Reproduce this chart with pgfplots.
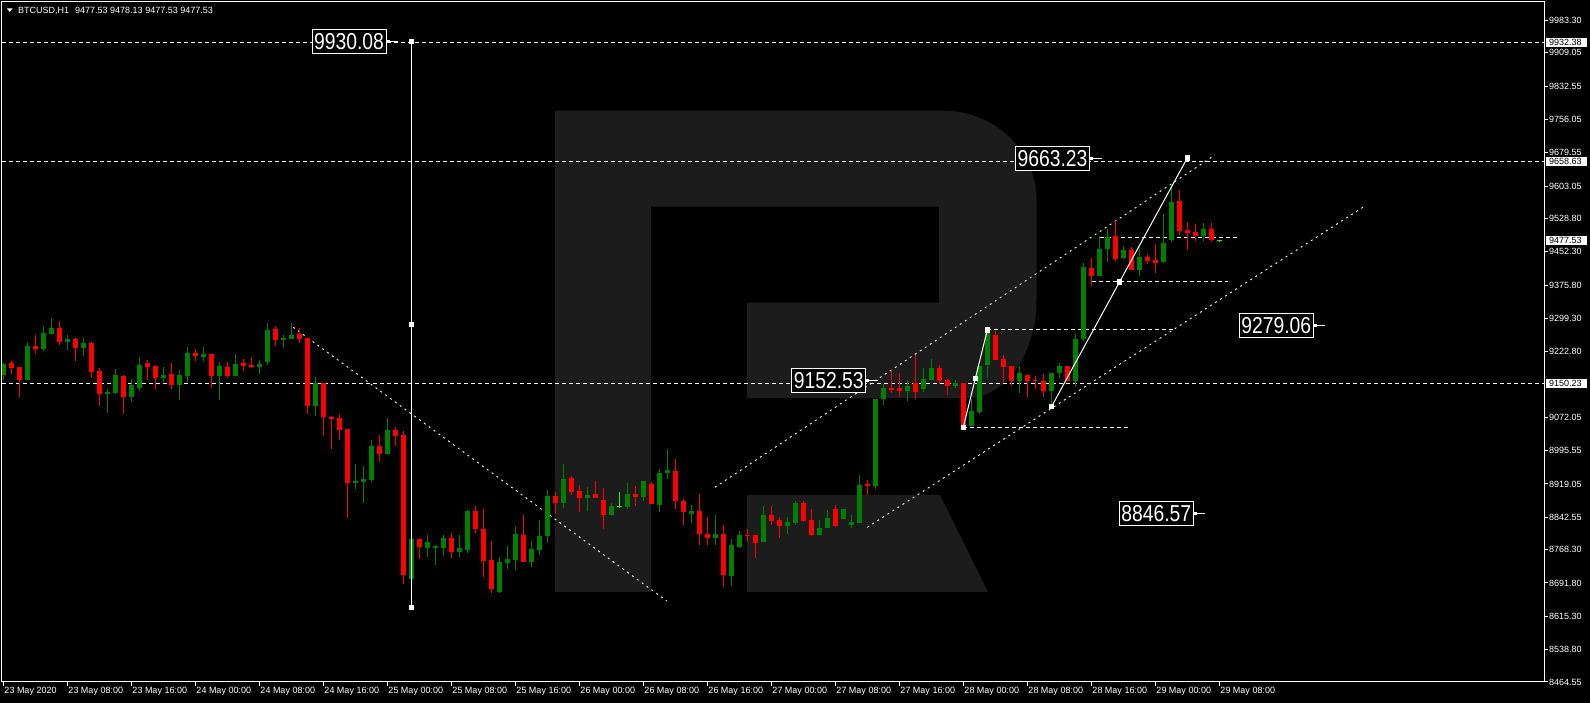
\documentclass[border=0pt]{standalone}
\usepackage{fontspec}
\setmainfont{Liberation Sans}
\usepackage{graphicx}
\usepackage{pgfplots}
\usepackage{pgfplotstable}
\pgfplotsset{compat=1.18}
\definecolor{cgreen}{RGB}{0,128,0}
\definecolor{cred}{RGB}{255,0,0}
\definecolor{clime}{RGB}{0,255,0}
\definecolor{rlogo}{RGB}{28,28,28}
\newcommand\sm{\fontsize{9}{10}\selectfont}
\newcommand\biglab[1]{\scalebox{0.84}[1]{\fontsize{23}{23}\selectfont #1}}

\pgfplotstableread{
k o h l c
0 9169.3 9196.1 9157.9 9194.6
3 9157.9 9245.1 9157.9 9235.9
5 9229.0 9281.8 9225.2 9265.7
6 9263.4 9300.2 9263.4 9277.2
8 9245.8 9261.2 9227.5 9252.0
10 9232.1 9255.0 9213.7 9242.8
13 9126.5 9136.4 9082.9 9130.3
14 9128.8 9183.1 9126.5 9169.3
16 9119.6 9160.1 9108.1 9146.4
17 9140.3 9211.4 9133.4 9192.3
20 9163.2 9187.7 9154.0 9169.3
22 9147.1 9180.8 9112.7 9169.3
23 9167.8 9233.6 9154.0 9219.8
25 9211.4 9233.6 9202.2 9217.5
27 9167.8 9199.2 9112.7 9190.0
29 9167.8 9217.5 9167.8 9194.6
32 9187.7 9203.8 9172.4 9194.6
33 9199.9 9288.7 9193.1 9272.6
35 9250.4 9261.2 9232.1 9254.3
36 9252.7 9288.7 9252.7 9261.2
39 9098.9 9164.7 9076.0 9151.0
44 8922.2 8965.8 8908.4 8926.0
45 8924.5 8961.2 8876.3 8930.6
46 8928.3 9020.9 8924.5 9007.1
48 8988.7 9071.4 8988.7 9043.8
51 8701.8 8795.0 8697.0 8792.8
53 8772.2 8802.0 8752.3 8785.9
54 8774.5 8779.0 8733.9 8776.7
55 8772.2 8802.0 8754.6 8795.1
57 8763.7 8802.0 8752.3 8772.2
58 8768.3 8859.4 8761.5 8857.1
62 8671.9 8751.5 8669.6 8740.0
63 8737.7 8776.7 8724.7 8746.9
64 8745.4 8822.7 8722.4 8804.3
66 8740.8 8788.2 8729.3 8769.9
67 8768.3 8836.4 8756.9 8799.7
68 8800.5 8905.3 8784.4 8891.5
70 8876.2 8965.0 8864.0 8930.6
73 8887.7 8912.2 8857.9 8893.8
76 8847.9 8875.5 8845.6 8868.6
78 8866.3 8921.4 8861.7 8896.1
80 8889.2 8926.0 8880.1 8926.0
82 8870.9 8953.5 8854.8 8944.3
83 8944.3 8999.4 8930.6 8951.2
86 8850.2 8870.9 8829.6 8857.1
89 8795.1 8847.9 8779.0 8804.3
91 8707.9 8792.8 8684.9 8779.0
92 8774.5 8811.2 8772.2 8802.0
95 8785.9 8868.6 8785.9 8847.9
98 8822.7 8843.3 8804.3 8831.8
99 8829.6 8880.1 8825.0 8875.5
102 8802.8 8836.5 8802.8 8818.1
103 8818.1 8859.4 8818.1 8841.1
105 8838.8 8861.7 8838.8 8861.7
106 8825.0 8847.9 8817.3 8832.6
107 8830.3 8939.8 8830.3 8916.8
109 8915.3 9114.2 8908.4 9114.2
110 9114.2 9148.7 9100.5 9139.5
113 9132.6 9157.9 9109.6 9144.1
115 9137.2 9185.4 9130.3 9160.1
116 9157.9 9206.1 9157.9 9185.4
119 9144.1 9157.9 9139.5 9151.0
121 9052.2 9114.2 9052.2 9086.7
122 9084.4 9190.0 9079.8 9190.0
123 9192.3 9272.6 9162.4 9272.6
127 9155.6 9190.0 9128.0 9173.9
131 9132.6 9173.9 9098.0 9173.9
132 9173.9 9196.9 9162.4 9190.0
134 9155.6 9263.4 9141.8 9252.0
135 9252.0 9425.7 9248.0 9418.0
137 9397.4 9488.4 9397.4 9458.6
138 9458.6 9504.5 9428.7 9486.1
140 9437.9 9465.5 9435.6 9456.3
142 9410.4 9463.2 9396.6 9440.2
145 9428.7 9538.9 9426.4 9472.4
146 9479.2 9607.8 9474.6 9566.5
150 9488.4 9518.3 9476.9 9504.5
}\bull

\pgfplotstableread{
k o h l c
1 9197.6 9201.5 9172.4 9186.2
2 9187.7 9187.7 9119.6 9157.9
4 9235.9 9261.2 9218.3 9229.0
7 9277.2 9293.3 9239.0 9245.8
9 9252.0 9255.0 9202.2 9232.1
11 9242.8 9245.8 9163.2 9177.0
12 9178.5 9186.2 9098.9 9126.5
15 9167.0 9169.3 9080.6 9119.6
18 9196.9 9203.8 9157.9 9187.7
19 9190.0 9192.3 9138.0 9163.2
21 9171.6 9196.9 9138.0 9147.1
24 9219.8 9229.0 9202.2 9213.7
26 9217.5 9217.5 9140.3 9167.8
28 9187.7 9199.2 9163.2 9167.8
30 9196.9 9206.1 9179.3 9190.8
31 9192.3 9210.7 9186.2 9187.7
34 9274.9 9281.8 9236.7 9250.4
37 9264.2 9277.2 9243.6 9252.7
38 9254.3 9254.3 9080.6 9098.9
40 9151.0 9151.0 9030.1 9073.7
41 9073.7 9076.0 9000.2 9069.1
42 9071.4 9079.8 9020.9 9043.8
43 9045.4 9045.4 8841.8 8922.2
47 9007.1 9032.4 8970.4 8988.7
49 9043.8 9050.7 9007.1 9030.1
50 9032.4 9041.5 8690.3 8711.0
52 8792.8 8792.8 8747.7 8774.5
56 8795.1 8806.6 8750.0 8763.7
59 8857.1 8868.6 8806.6 8815.8
60 8815.8 8861.7 8706.4 8743.1
61 8744.6 8788.2 8669.6 8678.8
65 8802.0 8847.9 8740.8 8740.8
69 8891.5 8900.7 8850.2 8875.5
71 8932.9 8937.4 8894.6 8900.7
72 8903.0 8916.8 8855.6 8887.7
74 8896.1 8926.0 8887.7 8887.7
75 8882.4 8909.9 8816.5 8847.9
79 8896.1 8914.5 8868.6 8889.2
81 8919.1 8923.7 8873.2 8873.2
84 8948.9 8976.5 8861.7 8880.1
85 8880.1 8884.6 8825.0 8854.8
87 8857.1 8896.1 8779.0 8804.3
88 8804.3 8843.3 8779.0 8795.1
90 8804.3 8825.0 8683.4 8710.2
93 8802.0 8815.8 8785.9 8800.5
94 8802.0 8802.0 8749.2 8783.6
96 8847.9 8868.6 8825.0 8834.1
97 8836.4 8843.3 8795.1 8822.7
100 8876.3 8880.1 8832.6 8834.9
101 8836.5 8861.7 8800.5 8802.0
104 8861.7 8870.9 8821.2 8823.5
108 8918.3 8928.3 8893.9 8916.8
111 9138.7 9180.8 9128.8 9137.2
112 9139.5 9173.9 9118.8 9132.6
114 9151.0 9215.2 9114.2 9130.3
117 9185.4 9192.3 9148.7 9155.6
118 9157.9 9160.1 9123.4 9144.1
120 9151.0 9151.0 9049.2 9049.2
124 9261.2 9270.3 9203.8 9203.8
125 9206.1 9215.2 9154.0 9188.5
126 9190.0 9190.0 9144.1 9155.6
128 9169.3 9169.3 9118.8 9155.6
129 9157.9 9167.0 9137.2 9156.3
130 9155.6 9171.6 9118.8 9132.6
133 9190.0 9190.0 9155.6 9155.6
136 9415.7 9437.9 9374.4 9397.4
139 9488.4 9522.9 9431.0 9435.6
141 9456.3 9463.2 9410.4 9410.4
143 9440.2 9447.1 9424.1 9431.0
144 9433.3 9470.1 9403.5 9426.4
147 9568.8 9594.0 9490.7 9499.9
148 9502.2 9520.6 9456.3 9495.3
149 9497.6 9516.0 9476.9 9488.4
151 9504.5 9518.3 9474.6 9479.2
}\bear

\pgfplotstableread{
k p h l
77 8867.8 8900.7 8864.0
152 9477.53 9478.13 9477.53
}\doji

\begin{document}
\begin{tikzpicture}[x=1pt,y=1pt]
\fill[black] (0,0) rectangle (1590,703);
% watermark
\fill[rlogo] (555,592.3) -- (943,592.3) .. controls (994.6,592.3) and (1036.5,552.3) .. (1036.5,503)
  -- (1036.5,403) .. controls (1036.5,348.9) and (1005.2,305) .. (966.7,305)
  -- (747,305) -- (747,400.3) -- (939,400.3) -- (939,496.3) -- (651,496.3) -- (651,111) -- (555,111) -- cycle;
\fill[rlogo] (747,208) -- (940,208) -- (988,111) -- (747,111) -- cycle;

\begin{axis}[at={(2pt,21pt)}, anchor=south west, scale only axis,
  width=1542pt, height=680pt,
  xmin=-0.1625, xmax=192.59, ymin=8464.5, ymax=10025.6,
  scaled ticks=false,
  axis line style={white, line width=1pt},
  xtick pos=left, ytick pos=right, yticklabel pos=right,
  tick align=outside, major tick length=4pt,
  tick style={white, line width=1pt},
  xtick={0,8,...,152},
  xticklabels={23 May 2020, 23 May 08:00, 23 May 16:00, 24 May 00:00, 24 May 08:00, 24 May 16:00, 25 May 00:00, 25 May 08:00, 25 May 16:00, 26 May 00:00, 26 May 08:00, 26 May 16:00, 27 May 00:00, 27 May 08:00, 27 May 16:00, 28 May 00:00, 28 May 08:00, 28 May 16:00, 29 May 00:00, 29 May 08:00},
  ytick={9983.30,9909.05,9832.55,9756.05,9679.55,9603.05,9528.80,9452.30,9375.80,9299.30,9222.80,9072.05,8995.55,8919.05,8842.55,8768.30,8691.80,8615.30,8538.80,8464.55},
  yticklabels={9983.30,9909.05,9832.55,9756.05,9679.55,9603.05,9528.80,9452.30,9375.80,9299.30,9222.80,9072.05,8995.55,8919.05,8842.55,8768.30,8691.80,8615.30,8538.80,8464.55},
  xticklabel style={text=white, font=\sm, anchor=north west, inner sep=1pt},
  yticklabel style={text=white, font=\sm, anchor=west, inner sep=1pt},
]
% full-width dashed price lines
\addplot[white, line width=1pt, dash pattern=on 4pt off 3pt] coordinates {(-1,9932.38) (195,9932.38)};
\addplot[white, line width=1pt, dash pattern=on 4pt off 3pt] coordinates {(-1,9658.63) (195,9658.63)};
\addplot[white, line width=1pt, dash pattern=on 4pt off 3pt] coordinates {(-1,9150.23) (195,9150.23)};
% short horizontal levels
\addplot[white, line width=1pt, dash pattern=on 4pt off 3pt] coordinates {(123,9272.6) (146.2,9272.6)};
\addplot[white, line width=1pt, dash pattern=on 4pt off 3pt] coordinates {(120,9049.2) (140.6,9049.2)};
\addplot[white, line width=1pt, dash pattern=on 4pt off 3pt] coordinates {(136.1,9383.5) (153.1,9383.5)};
\addplot[white, line width=1pt, dash pattern=on 4pt off 3pt] coordinates {(137.1,9485) (154.2,9485)};
% dotted channel lines
\addplot[white, line width=0.9pt, dash pattern=on 2pt off 4pt] coordinates {(36.25,9278.8) (82.93,8650.5)};
\addplot[white, line width=0.9pt, dash pattern=on 2pt off 4pt] coordinates {(88.96,8911.5) (151.46,9674.4)};
\addplot[white, line width=0.9pt, dash pattern=on 2pt off 4pt] coordinates {(108.0,8819.7) (170.2,9557.3)};
% candles: wicks and bodies
\addplot[draw=none, error bars/.cd, y dir=both, y explicit, error mark=none,
  error bar style={draw=cgreen, line width=1pt, solid}]
  table[x=k, y expr={(\thisrow{h}+\thisrow{l})/2}, y error expr={(\thisrow{h}-\thisrow{l})/2}] {\bull};
\addplot[draw=none, error bars/.cd, y dir=both, y explicit, error mark=none,
  error bar style={draw=cgreen, line width=5pt, solid}]
  table[x=k, y expr={(\thisrow{o}+\thisrow{c})/2}, y error expr={max(abs(\thisrow{o}-\thisrow{c})/2,1.15)}] {\bull};
\addplot[draw=none, error bars/.cd, y dir=both, y explicit, error mark=none,
  error bar style={draw=cred, line width=1pt, solid}]
  table[x=k, y expr={(\thisrow{h}+\thisrow{l})/2}, y error expr={(\thisrow{h}-\thisrow{l})/2}] {\bear};
\addplot[draw=none, error bars/.cd, y dir=both, y explicit, error mark=none,
  error bar style={draw=cred, line width=5pt, solid}]
  table[x=k, y expr={(\thisrow{o}+\thisrow{c})/2}, y error expr={max(abs(\thisrow{o}-\thisrow{c})/2,1.15)}] {\bear};
\addplot[draw=none, error bars/.cd, y dir=both, y explicit, error mark=none,
  error bar style={draw=clime, line width=1pt, solid}]
  table[x=k, y expr={(\thisrow{h}+\thisrow{l})/2}, y error expr={(\thisrow{h}-\thisrow{l})/2}] {\doji};
\addplot[clime, only marks, mark=-, mark size=2.5pt, mark options={line width=1pt}] table[x=k, y=p] {\doji};
% measurement / zigzag lines with handles
\addplot[white, line width=1pt, mark=square*, mark size=2.2pt] coordinates {(51,9934.5) (51,9285.2) (51,8636.0)};
\addplot[white, line width=1pt, mark=square*, mark size=2.2pt] coordinates {(120,9049.2) (121.5,9160.9) (123,9272.6)};
\addplot[white, line width=1pt, mark=square*, mark size=2.2pt] coordinates {(131.05,9097.5) (139.52,9382.5) (148,9667.5)};
\end{axis}

% price label objects
\foreach \cx/\cy/\t in {349/661/9930.08, 1052.5/544.7/9663.23, 1276.3/377.7/9279.06, 1156.3/189.7/8846.57, 828.7/322.7/9152.53}{
  \node[draw=white, line width=1pt, fill=black, text=white, minimum width=74pt, minimum height=24pt, inner sep=0pt] at (\cx,\cy) {\biglab{\t}};
  \fill[white] (\cx+37.5,\cy-1.5) rectangle (\cx+40.5,\cy+1.5);
  \draw[white, line width=1pt] (\cx+40.5,\cy) -- (\cx+49,\cy);
}
% highlighted right-axis price boxes
\foreach \yc/\t in {660.4/9932.38, 541.2/9658.63, 462.3/9477.53, 319.7/9150.23}{
  \fill[white] (1546,\yc-4.6) rectangle (1587,\yc+4.6);
  \node[anchor=west, text=black, font=\sm, inner sep=0pt] at (1549,\yc) {\t};
}
% header
\fill[white] (7,694.5) -- (12.5,694.5) -- (9.75,691) -- cycle;
\node[anchor=west, text=white, font=\sm, inner sep=0pt] at (18,692) {BTCUSD,H1\hspace{6pt}9477.53 9478.13 9477.53 9477.53};
\pgfresetboundingbox
\useasboundingbox (0,0) rectangle (1590,703);
\end{tikzpicture}
\end{document}
